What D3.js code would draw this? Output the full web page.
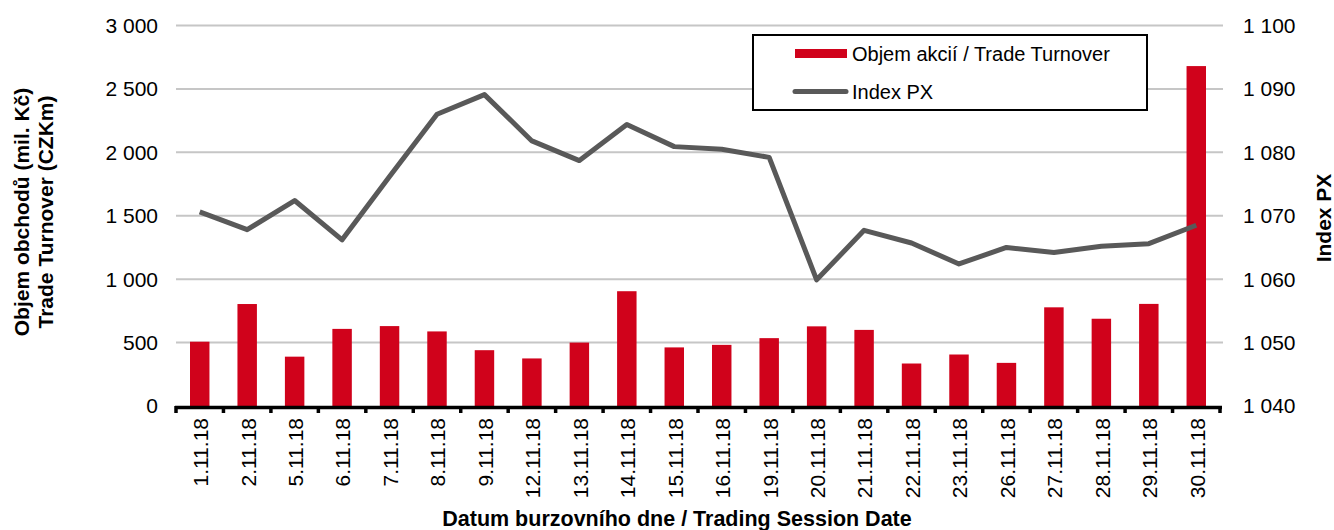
<!DOCTYPE html>
<html>
<head>
<meta charset="utf-8">
<script src="https://cdn.jsdelivr.net/npm/d3@7"></script>
<style>
  body { margin: 0; background: #fff; }
  text { font-family: Arial, "Liberation Sans", sans-serif; fill: #000; }
</style>
</head>
<body>
<svg width="1334" height="530"></svg>
<script>
// trading days, November 2018
var dates = ['1.11.18', '2.11.18', '5.11.18', '6.11.18', '7.11.18', '8.11.18', '9.11.18',
    '12.11.18', '13.11.18', '14.11.18', '15.11.18', '16.11.18', '19.11.18', '20.11.18',
    '21.11.18', '22.11.18', '23.11.18', '26.11.18', '27.11.18', '28.11.18', '29.11.18', '30.11.18'];

// Objem akcií / Trade Turnover (mil. Kč)
var turnover = [507, 804, 389, 608, 630, 588, 440, 375, 500, 905, 462, 482, 535, 628, 600,
    335, 406, 340, 778, 688, 805, 2680];

// Index PX
var indexPX = [1070.6, 1067.8, 1072.4, 1066.2, 1076.2, 1086.0, 1089.1, 1081.8, 1078.7, 1084.4,
    1080.9, 1080.5, 1079.2, 1059.9, 1067.7, 1065.7, 1062.4, 1065.0, 1064.2, 1065.2, 1065.6, 1068.5];

var leftTicks = [0, 500, 1000, 1500, 2000, 2500, 3000];
var rightTicks = [1040, 1050, 1060, 1070, 1080, 1090, 1100];

var svg = d3.select("svg");
var plotLeft = 176, plotRight = 1220, plotTop = 25.5, plotBottom = 406;
var barColor = '#d0021b', lineColor = '#595959';

var fmt = d3.formatLocale({ decimal: ",", thousands: " ", grouping: [3], currency: ["", ""] }).format(",");

var x = d3.scaleBand().domain(dates).range([plotLeft, plotRight]).paddingInner(0.59).paddingOuter(0.295);
var yL = d3.scaleLinear().domain([0, 3000]).range([plotBottom, plotTop]);
var yR = d3.scaleLinear().domain([1040, 1100]).range([plotBottom, plotTop]);

// gridlines
svg.append("g").selectAll("line")
    .data(leftTicks.slice(1))
    .enter()
    .append("line")
    .attr("x1", plotLeft)
    .attr("x2", plotRight + 3)
    .attr("y1", function(d) { return yL(d); })
    .attr("y2", function(d) { return yL(d); })
    .attr("stroke", "#c6c6c6")
    .attr("stroke-width", 2);

// left axis labels
svg.append("g").selectAll("text")
    .data(leftTicks)
    .enter()
    .append("text")
    .attr("x", 158)
    .attr("y", function(d) { return yL(d); })
    .attr("dy", "0.35em")
    .attr("text-anchor", "end")
    .style("font-size", "21px")
    .text(function(d) { return fmt(d); });

// right axis labels
svg.append("g").selectAll("text")
    .data(rightTicks)
    .enter()
    .append("text")
    .attr("x", 1243)
    .attr("y", function(d) { return yR(d); })
    .attr("dy", "0.35em")
    .style("font-size", "21px")
    .text(function(d) { return fmt(d); });

// bars
svg.append("g").selectAll("rect")
    .data(turnover)
    .enter()
    .append("rect")
    .attr("x", function(d, i) { return x(dates[i]); })
    .attr("width", x.bandwidth())
    .attr("y", function(d) { return yL(d); })
    .attr("height", function(d) { return plotBottom - yL(d); })
    .attr("fill", barColor);

// x axis: thick line with ticks between categories
var xAxis = svg.append("g");
xAxis.append("line")
    .attr("x1", plotLeft - 1)
    .attr("x2", plotRight + 2)
    .attr("y1", plotBottom + 1.5)
    .attr("y2", plotBottom + 1.5)
    .attr("stroke", "#000")
    .attr("stroke-width", 3.5);
xAxis.selectAll(".tick")
    .data(d3.range(dates.length + 1))
    .enter()
    .append("line")
    .attr("class", "tick")
    .attr("x1", function(i) { return plotLeft + i * x.step(); })
    .attr("x2", function(i) { return plotLeft + i * x.step(); })
    .attr("y1", plotBottom)
    .attr("y2", plotBottom + 7)
    .attr("stroke", "#000")
    .attr("stroke-width", 3.5);

xAxis.selectAll("text")
    .data(dates)
    .enter()
    .append("text")
    .attr("transform", function(d) { return "translate(" + (x(d) + x.bandwidth() / 2 + 1) + ",418) rotate(-90)"; })
    .attr("dy", "0.35em")
    .attr("text-anchor", "end")
    .style("font-size", "21px")
    .text(function(d) { return d; });

// index line
var line = d3.line()
    .x(function(d, i) { return x(dates[i]) + x.bandwidth() / 2; })
    .y(function(d) { return yR(d); });

svg.append("path")
    .datum(indexPX)
    .attr("d", line)
    .attr("fill", "none")
    .attr("stroke", lineColor)
    .attr("stroke-width", 5)
    .attr("stroke-linejoin", "round");

// axis titles
svg.append("text")
    .attr("x", 677)
    .attr("y", 526)
    .attr("text-anchor", "middle")
    .style("font-size", "21.5px")
    .style("font-weight", "bold")
    .text("Datum burzovního dne / Trading Session Date");

var leftTitle = svg.append("text")
    .attr("transform", "translate(0,212) rotate(-90)")
    .attr("text-anchor", "middle")
    .style("font-size", "21px")
    .style("font-weight", "bold");
leftTitle.append("tspan").attr("x", 0).attr("y", 29).text("Objem obchodů (mil. Kč)");
leftTitle.append("tspan").attr("x", 0).attr("y", 53).text("Trade Turnover (CZKm)");

svg.append("text")
    .attr("transform", "translate(1331,218) rotate(-90)")
    .attr("text-anchor", "middle")
    .style("font-size", "21px")
    .style("font-weight", "bold")
    .text("Index PX");

// legend
var legend = svg.append("g");
legend.append("rect")
    .attr("x", 753)
    .attr("y", 35)
    .attr("width", 394)
    .attr("height", 75)
    .attr("fill", "#fff")
    .attr("stroke", "#000")
    .attr("stroke-width", 2);
legend.append("rect")
    .attr("x", 795)
    .attr("y", 49)
    .attr("width", 52)
    .attr("height", 9)
    .attr("fill", barColor);
legend.append("line")
    .attr("x1", 795)
    .attr("x2", 846)
    .attr("y1", 91.5)
    .attr("y2", 91.5)
    .attr("stroke", lineColor)
    .attr("stroke-width", 5)
    .attr("stroke-linecap", "round");
legend.selectAll(".ltext")
    .data(["Objem akcií / Trade Turnover", "Index PX"])
    .enter()
    .append("text")
    .attr("class", "ltext")
    .attr("x", 852)
    .attr("y", function(d, i) { return 54 + i * 38; })
    .attr("dy", "0.35em")
    .style("font-size", "20px")
    .text(function(d) { return d; });
</script>
</body>
</html>
